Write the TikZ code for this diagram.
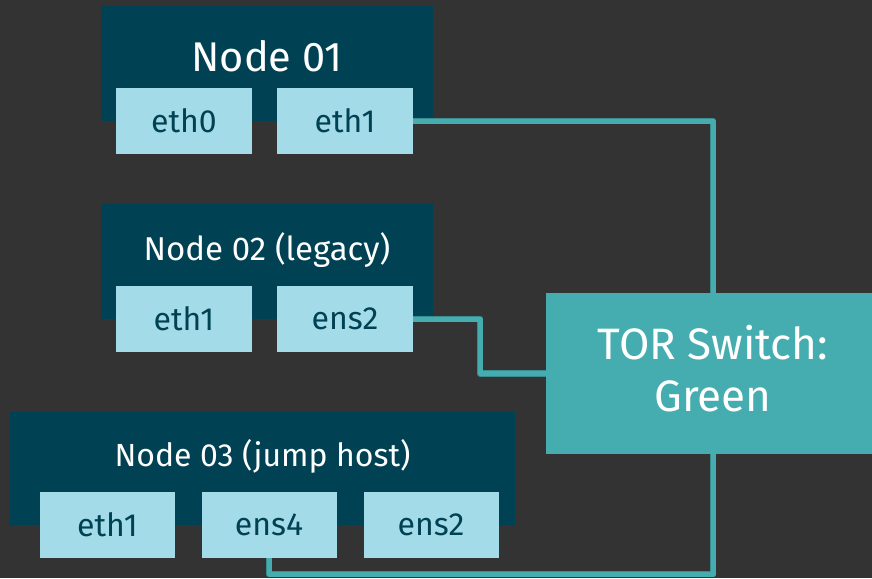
\documentclass[tikz,border=0pt]{standalone}
\usepackage{fontspec}
\setmainfont{Fira Sans}
\usetikzlibrary{positioning,calc}
\definecolor{bgcol}{HTML}{333333}
\definecolor{hostcol}{HTML}{004153}
\definecolor{ifcol}{HTML}{A3DCE8}
\definecolor{torcol}{HTML}{45ADB0}
\definecolor{linkedge}{HTML}{3A8C90}
\tikzset{
  hostbox/.style={fill=hostcol, draw=none, inner sep=0pt},
  ifbox/.style={fill=ifcol, draw=none, inner sep=0pt, minimum width=136pt, minimum height=66pt,
    text=hostcol, font=\fontsize{32}{34}\selectfont},
  hosttitle/.style={text=white, inner sep=0pt, anchor=base},
  torbox/.style={fill=torcol, draw=none, inner sep=0pt},
  tortext/.style={text=white, align=center, inner sep=0pt, font=\fontsize{44}{52}\selectfont},
  linkunder/.style={draw=linkedge, line width=6.5pt, line join=round},
  link/.style={draw=torcol, line width=5pt, line join=round},
}
\begin{document}
\begin{tikzpicture}[x=1pt,y=-1pt]
  \fill[bgcol] (0,0) rectangle (872,578);
  \useasboundingbox (0,0) rectangle (872,578);

  % host boxes
  \node[hostbox, minimum width=332pt, minimum height=115pt] (n1) at (267,63.5) {};
  \node[hostbox, minimum width=332pt, minimum height=115pt] (n2) at (267,261.5) {};
  \node[hostbox, minimum width=505pt, minimum height=113pt] (n3) at (262.5,468.5) {};

  \node[hosttitle, font=\fontsize{41.5}{44}\selectfont] (t1) at (267,71) {Node 01};
  \node[hosttitle, font=\fontsize{33}{36}\selectfont] (t2) at (267,260) {Node 02 (legacy)};
  \node[hosttitle, font=\fontsize{32}{36}\selectfont] (t3) at (262.5,466) {Node 03 (jump host)};

  % interfaces
  \node[ifbox] (n1a) at (184,121) {eth0};
  \node[ifbox] (n1b) at (345,121) {eth1};
  \node[ifbox] (n2a) at (184,319) {eth1};
  \node[ifbox] (n2b) at (345,319) {ens2};
  \node[ifbox, minimum width=135pt] (n3a) at (107.5,525) {eth1};
  \node[ifbox, minimum width=135pt] (n3b) at (269,525) {ens4};
  \node[ifbox, minimum width=135pt] (n3c) at (431,525) {ens2};

  % switch
  \node[torbox, minimum width=326pt, minimum height=161pt] (tor) at (709,373.5) {};
  \node[tortext] (tort) at ([xshift=4pt,yshift=5pt]tor.center) {TOR Switch:\\Green};

  % cabling
  \foreach \s in {linkunder, link}{
    \draw[\s] (n1b.east) -| ([xshift=4pt]tor.north);
    \draw[\s] (n2b.east) -- ++(67,0) |- (tor.west);
    \draw[\s] (n3b.south) -- ++(0,16) -| ([xshift=4pt]tor.south);
  }
\end{tikzpicture}
\end{document}
